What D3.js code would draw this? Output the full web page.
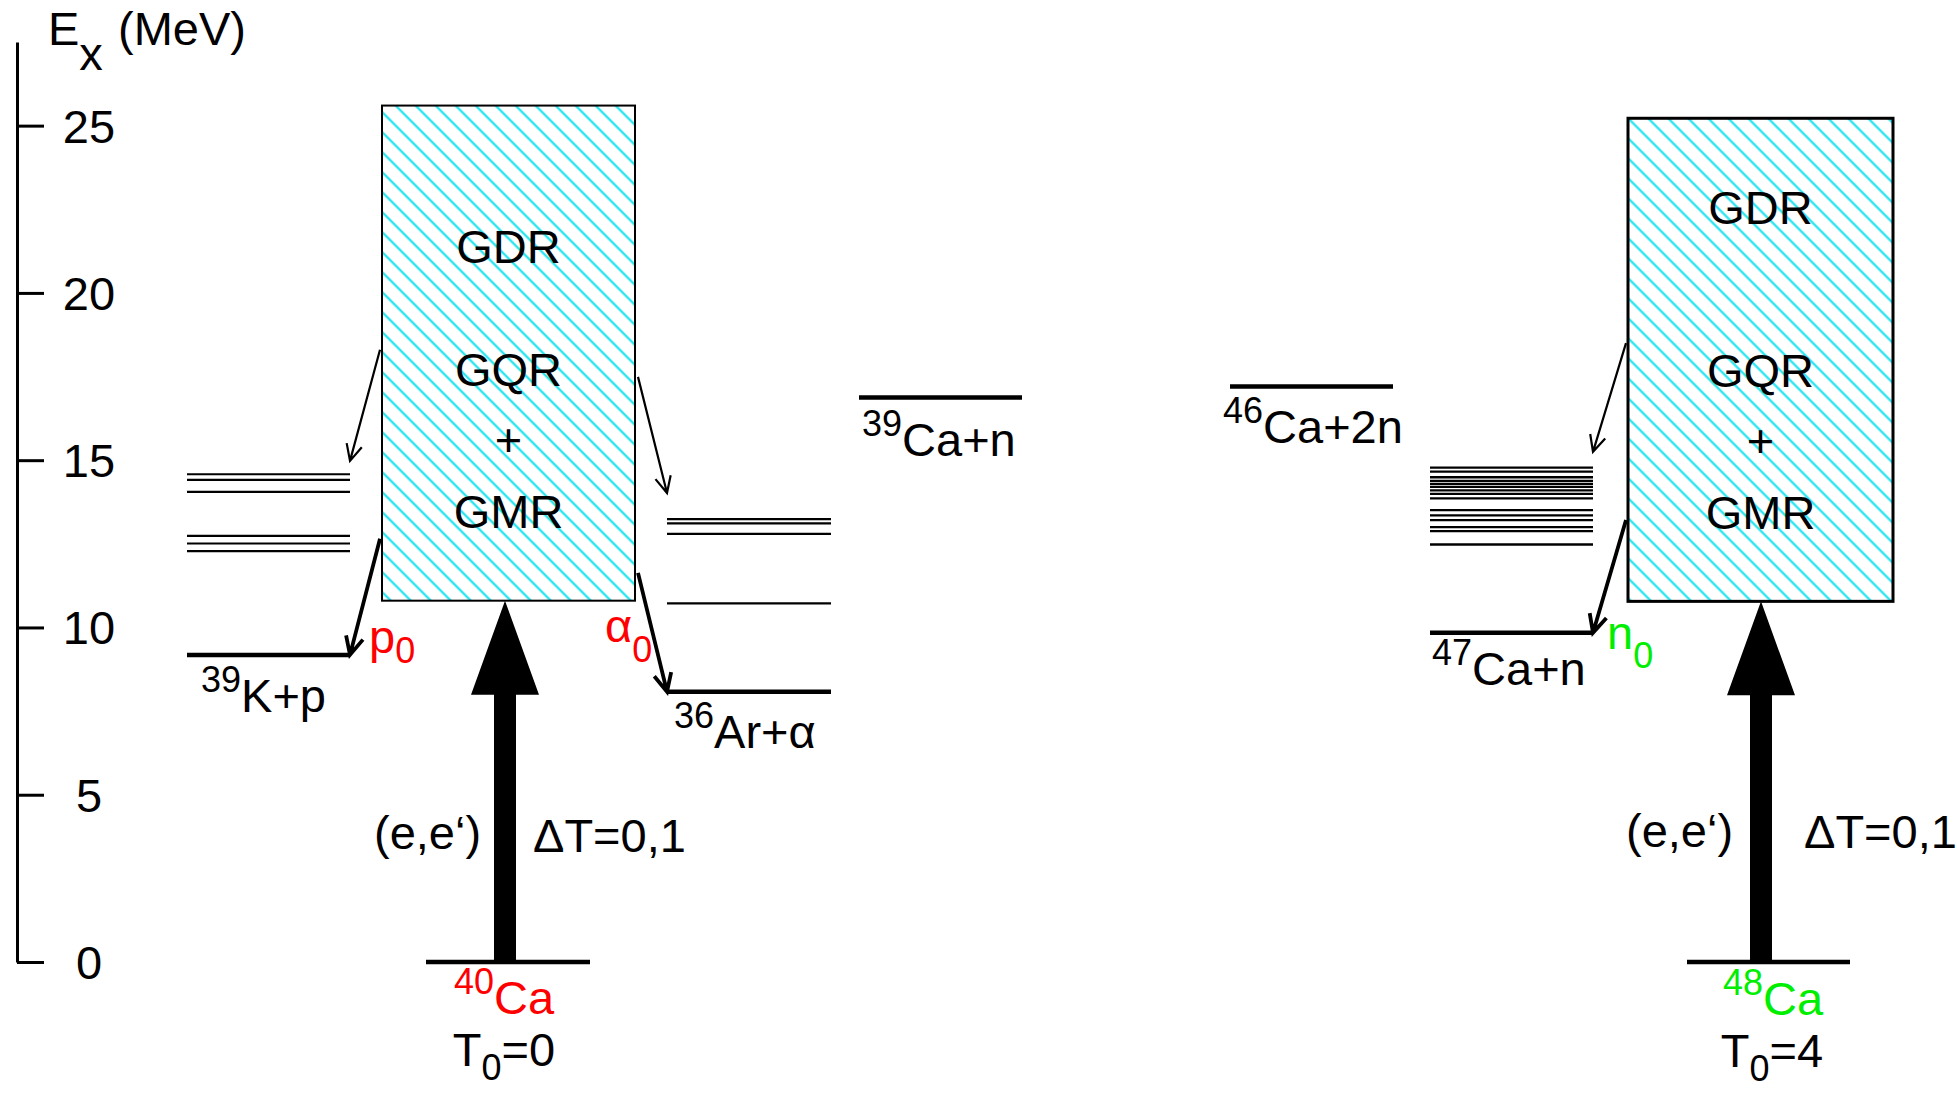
<!DOCTYPE html>
<html>
<head>
<meta charset="utf-8">
<script src="https://cdn.jsdelivr.net/npm/d3@7"></script>
<style>
  body { margin: 0; background: #fff; }
  svg { display: block; }
  text { font-family: "Liberation Sans", Arial, Helvetica, sans-serif; }
</style>
</head>
<body>
<svg id="chart" width="1957" height="1093"></svg>
<script>
// ---- data (excitation energies in MeV) ----
var tickValues = [0, 5, 10, 15, 20, 25];

var k39Levels = [14.58, 14.41, 14.05, 12.74, 12.51, 12.28];
var ar36Levels = [13.24, 13.11, 12.80, 10.72];
var ca47Levels = [14.78, 14.66, 14.49, 14.38, 14.29, 14.20, 14.10, 13.99, 13.86,
                  13.51, 13.35, 13.21, 13.00, 12.88, 12.48];

// particle thresholds
var thresholdNames = ["k39", "ar36", "ca39n", "ca46", "ca47"];
var thresholdE = [9.18, 8.08, 16.87, 17.20, 9.84];

// giant resonance regions [bottom, top]
var box40 = [10.80, 25.60];
var box48 = [10.78, 25.22];
var boxText = ["GDR", "GQR", "+", "GMR"];

// decay arrows: energy on the resonance box -> energy at the level
var arrowFrom = ["box40", "box40", "box40", "box40", "box48", "box48"];
var arrowSide = ["left", "left", "right", "right", "left", "left"];
var arrowTo = ["k39", "k39", "ar36", "ar36", "ca47", "ca47"];
var arrowE0 = [18.30, 12.65, 17.49, 11.63, 18.50, 13.21];
var arrowE1 = [14.98, 9.18, 14.02, 8.08, 15.25, 9.84];
var arrowHeavy = [false, true, false, true, false, true];

// ---- layout ----
var svg = d3.select("#chart");
var y = d3.scaleLinear().domain([0, 27.5]).range([962, 42]);

var cols = {
  k39: [187, 350], box40: [382, 635], ar36: [667, 831], ca39n: [859, 1022],
  ca46: [1230, 1393], ca47: [1430, 1593], box48: [1628, 1893],
  g40: [426, 590], g48: [1687, 1850]
};
var FONT = 47, SUP = 36;

// hatch pattern
var defs = svg.append("defs");
var pat = defs.append("pattern")
  .attr("id", "hatch")
  .attr("patternUnits", "userSpaceOnUse")
  .attr("width", 14.14).attr("height", 14.14)
  .attr("patternTransform", "rotate(45)");
pat.append("line")
  .attr("x1", 0).attr("x2", 14.14).attr("y1", 7).attr("y2", 7)
  .attr("stroke", "#1ee4f0").attr("stroke-width", 2.2);

// ---- axis ----
var axis = d3.axisRight(y)
  .tickValues(tickValues)
  .tickSize(27)
  .tickSizeOuter(0)
  .tickFormat(d3.format("d"));

var ag = svg.append("g")
  .attr("transform", "translate(17,0)")
  .call(axis)
  .attr("font-size", FONT)
  .attr("font-family", null);
ag.select(".domain").attr("stroke-width", 3);
ag.selectAll(".tick line").attr("stroke-width", 3);
ag.selectAll(".tick text")
  .attr("x", 72)
  .attr("dy", "0.35em")
  .attr("text-anchor", "middle")
  .attr("fill", "#000");

var title = svg.append("text").attr("x", 48).attr("y", 45).attr("font-size", FONT);
title.append("tspan").text("E");
title.append("tspan").attr("dy", 25).text("x");
title.append("tspan").attr("x", 118).attr("dy", -25).text("(MeV)");

// ---- resonance boxes ----
function drawBox(key, range, sw) {
  var c = cols[key];
  svg.append("rect")
    .attr("x", c[0]).attr("y", y(range[1]))
    .attr("width", c[1] - c[0]).attr("height", y(range[0]) - y(range[1]))
    .attr("fill", "url(#hatch)")
    .attr("stroke", "#000").attr("stroke-width", sw);
}
drawBox("box40", box40, 2);
drawBox("box48", box48, 3);

var boxLabelY40 = [263, 386, 456, 528];
var boxLabelY48 = [224, 387, 457, 529];
svg.selectAll(".bt40").data(boxText).enter().append("text")
  .attr("x", (cols.box40[0] + cols.box40[1]) / 2)
  .attr("y", function(d, i) { return boxLabelY40[i]; })
  .attr("text-anchor", "middle").attr("font-size", FONT)
  .text(function(d) { return d; });
svg.selectAll(".bt48").data(boxText).enter().append("text")
  .attr("x", (cols.box48[0] + cols.box48[1]) / 2)
  .attr("y", function(d, i) { return boxLabelY48[i]; })
  .attr("text-anchor", "middle").attr("font-size", FONT)
  .text(function(d) { return d; });

// ---- levels ----
function drawLevels(key, levels, sw) {
  var c = cols[key];
  svg.append("g").selectAll("line").data(levels).enter().append("line")
    .attr("x1", c[0]).attr("x2", c[1])
    .attr("y1", function(d) { return y(d); })
    .attr("y2", function(d) { return y(d); })
    .attr("stroke", "#000").attr("stroke-width", sw);
}
drawLevels("k39", k39Levels, 2.2);
drawLevels("ar36", ar36Levels, 2.3);
drawLevels("ca47", ca47Levels, 2.3);
thresholdNames.forEach(function(k, i) { drawLevels(k, [thresholdE[i]], 4.5); });
drawLevels("g40", [0], 4.5);
drawLevels("g48", [0], 4.5);

// ---- decay arrows ----
function arrowPath(x0, y0, x1, y1, len, ang) {
  var a = Math.atan2(y1 - y0, x1 - x0);
  var p = d3.path();
  p.moveTo(x0, y0); p.lineTo(x1, y1);
  p.moveTo(x1 - len * Math.cos(a - ang), y1 - len * Math.sin(a - ang));
  p.lineTo(x1, y1);
  p.lineTo(x1 - len * Math.cos(a + ang), y1 - len * Math.sin(a + ang));
  return p.toString();
}
arrowFrom.forEach(function(f, i) {
  var b = cols[f], t = cols[arrowTo[i]];
  var left = arrowSide[i] === "left";
  var x0 = left ? b[0] - 2 : b[1] + 3;
  var x1 = left ? t[1] : t[0];
  svg.append("path")
    .attr("d", arrowPath(x0, y(arrowE0[i]), x1, y(arrowE1[i]), arrowHeavy[i] ? 20 : 18, 0.45))
    .attr("fill", "none").attr("stroke", "#000")
    .attr("stroke-width", arrowHeavy[i] ? 3.8 : 2.2)
    .attr("stroke-linejoin", "miter");
});

// ---- excitation arrows (e,e') ----
function bigArrow(cx, eTop) {
  var yb = y(0), yt = y(eTop), headLen = 94, headW = 34, shaftW = 11;
  var pts = [[cx - shaftW, yb], [cx - shaftW, yt + headLen], [cx - headW, yt + headLen], [cx, yt],
             [cx + headW, yt + headLen], [cx + shaftW, yt + headLen], [cx + shaftW, yb]];
  svg.append("path").attr("d", d3.line()(pts) + "Z").attr("fill", "#000");
}
bigArrow(505, box40[0]);
bigArrow(1761, box48[0]);

// ---- labels ----
function label(x, yb, parts, color, anchor) {
  var t = svg.append("text").attr("x", x).attr("y", yb)
    .attr("font-size", FONT).attr("fill", color || "#000")
    .attr("text-anchor", anchor || "start");
  var shift = 0;
  parts.forEach(function(p) {
    var target = p.sup ? -20 : (p.sub ? p.sub : 0);
    t.append("tspan")
      .attr("dy", target - shift)
      .attr("font-size", (p.sup || p.sub) ? SUP : FONT)
      .text(p.t);
    shift = target;
  });
  return t;
}

label(cols.k39[0] + 14, y(thresholdE[0]) + 57, [{t: "39", sup: 1}, {t: "K+p"}]);
label(cols.ar36[0] + 7, y(thresholdE[1]) + 56, [{t: "36", sup: 1}, {t: "Ar+α"}]);
label(cols.ca39n[0] + 3, y(thresholdE[2]) + 58, [{t: "39", sup: 1}, {t: "Ca+n"}]);
label(cols.ca46[0] - 7, y(thresholdE[3]) + 56, [{t: "46", sup: 1}, {t: "Ca+2n"}]);
label(cols.ca47[0] + 2, y(thresholdE[4]) + 52, [{t: "47", sup: 1}, {t: "Ca+n"}]);

label(369, 653, [{t: "p"}, {t: "0", sub: 10}], "#ff0000");
label(605, 642, [{t: "α"}, {t: "0", sub: 20}], "#ff0000");
label(1607, 649, [{t: "n"}, {t: "0", sub: 19}], "#00ee00");

label(504, 1014, [{t: "40", sup: 1}, {t: "Ca"}], "#ff0000", "middle");
label(504, 1066, [{t: "T"}, {t: "0", sub: 14}, {t: "=0"}], "#000", "middle");
label(1773, 1015, [{t: "48", sup: 1}, {t: "Ca"}], "#00ee00", "middle");
label(1772, 1067, [{t: "T"}, {t: "0", sub: 14}, {t: "=4"}], "#000", "middle");

label(374, 849, [{t: "(e,e‘)"}]);
label(533, 852, [{t: "ΔT=0,1"}]);
label(1626, 847, [{t: "(e,e‘)"}]);
label(1804, 848, [{t: "ΔT=0,1"}]);
</script>
</body>
</html>
